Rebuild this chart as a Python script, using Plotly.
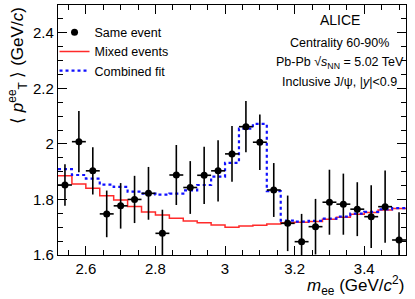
import plotly.graph_objects as go

# ---- data ----
bin_edges = [2.52, 2.56, 2.60, 2.64, 2.68, 2.72, 2.76, 2.80, 2.84, 2.88, 2.92, 2.96, 3.00,
             3.04, 3.08, 3.12, 3.16, 3.20, 3.24, 3.28, 3.32, 3.36, 3.40, 3.44, 3.48, 3.52]
mass = [2.54, 2.58, 2.62, 2.66, 2.70, 2.74, 2.78, 2.82, 2.86, 2.90, 2.94, 2.98, 3.02,
        3.06, 3.10, 3.14, 3.18, 3.22, 3.26, 3.30, 3.34, 3.38, 3.42, 3.46, 3.50]
same_event = [1.852, 2.008, 1.903, 1.748, 1.777, 1.800, 1.822, 1.678, 1.888, 1.843, 1.887, 1.903, 1.964,
              2.062, 2.006, 1.834, 1.714, 1.648, 1.702, 1.790, 1.783, 1.765, 1.738, 1.774, 1.654]
same_event_err = [0.075, 0.11, 0.085, 0.084, 0.082, 0.085, 0.095, 0.085, 0.108, 0.095, 0.103, 0.11, 0.10,
                  0.092, 0.10, 0.097, 0.10, 0.10, 0.10, 0.117, 0.11, 0.097, 0.113, 0.13, 0.10]
half_bin = [0.02] * 25
mixed_events = [1.885, 1.856, 1.840, 1.813, 1.798, 1.775, 1.755, 1.744, 1.732, 1.722, 1.716, 1.708, 1.700,
                1.704, 1.707, 1.712, 1.716, 1.718, 1.721, 1.729, 1.736, 1.747, 1.753, 1.762, 1.767]
combined_fit = [1.909, 1.888, 1.875, 1.853, 1.845, 1.828, 1.821, 1.817, 1.821, 1.833, 1.852, 1.882, 1.932,
                2.055, 2.072, 1.830, 1.724, 1.720, 1.723, 1.731, 1.738, 1.749, 1.755, 1.764, 1.769]
x_ticks = [2.6, 2.8, 3.0, 3.2, 3.4]
y_ticks = [1.6, 1.8, 2.0, 2.2, 2.4]

FONT = "Liberation Sans, Arial, sans-serif"

fig = go.Figure()

fig.add_trace(go.Scatter(
    x=bin_edges, y=mixed_events + [mixed_events[-1]], mode="lines", line_shape="hv",
    line=dict(color="#ff2a2a", width=1.5), name="Mixed events", legendrank=2))
fig.add_trace(go.Scatter(
    x=bin_edges, y=combined_fit + [combined_fit[-1]], mode="lines", line_shape="hv",
    line=dict(color="#1010ff", width=2.2, dash="dot"), name="Combined fit", legendrank=3))
fig.add_trace(go.Scatter(
    x=mass, y=same_event, mode="markers", name="Same event", legendrank=1,
    marker=dict(color="black", size=7, symbol="circle"),
    error_y=dict(type="data", array=same_event_err, color="black", thickness=1.6, width=0),
    error_x=dict(type="data", array=half_bin, color="black", thickness=1.6, width=0)))

axis_common = dict(
    showline=True, linecolor="black", linewidth=1.3, mirror="allticks",
    ticks="inside", ticklen=9, tickwidth=1, tickcolor="black",
    showgrid=False, zeroline=False,
    tickfont=dict(family=FONT, size=15, color="black"),
)

fig.update_xaxes(range=[2.52, 3.52], tickvals=x_ticks,
                 minor=dict(dtick=0.05, tick0=2.5, ticks="inside", ticklen=5, tickcolor="black", tickwidth=1),
                 **axis_common)
fig.update_yaxes(range=[1.6, 2.5], tickvals=y_ticks,
                 minor=dict(dtick=0.05, tick0=1.6, ticks="inside", ticklen=5, tickcolor="black", tickwidth=1),
                 **axis_common)

fig.update_layout(
    width=415, height=299,
    margin=dict(l=58, r=9, t=5, b=44),
    paper_bgcolor="white", plot_bgcolor="white",
    font=dict(family=FONT, color="black"),
    showlegend=True,
    legend=dict(x=-0.01, y=0.95, xanchor="left", yanchor="top", bgcolor="rgba(0,0,0,0)",
                font=dict(size=12.5, family=FONT), tracegroupgap=0, itemwidth=30,
                itemsizing="trace"),
)

TX = 0.81
annos = [
    dict(text="<i>m</i><sub>ee</sub> (GeV/<i>c</i><sup>2</sup>)", x=1.0, y=-0.12, xanchor="right",
         yanchor="middle", font=dict(size=17)),
    dict(text="⟨ <i>p</i><sup>ee</sup><sub>T</sub> ⟩ (GeV/<i>c</i>)", x=-0.118, y=0.76, xanchor="center",
         yanchor="middle", textangle=-90, font=dict(size=17)),
    dict(text="ALICE", x=TX, y=0.94, xanchor="center", yanchor="middle", font=dict(size=14)),
    dict(text="Centrality 60-90%", x=TX, y=0.848, xanchor="center", yanchor="middle", font=dict(size=12.5)),
    dict(text="Pb-Pb √<i>s</i><sub>NN</sub> = 5.02 TeV", x=TX, y=0.768, xanchor="center",
         yanchor="middle", font=dict(size=12.5)),
    dict(text="Inclusive J/ψ, |<i>y</i>|&lt;0.9", x=TX, y=0.692, xanchor="center", yanchor="middle",
         font=dict(size=12.5)),
]
for a in annos:
    a.update(xref="paper", yref="paper", showarrow=False)
    a["font"] = dict(family=FONT, color="black", **a["font"])
    fig.add_annotation(**a)

fig.write_html("out.html", config={"displayModeBar": False},
               post_script="document.body.style.margin='0';")
